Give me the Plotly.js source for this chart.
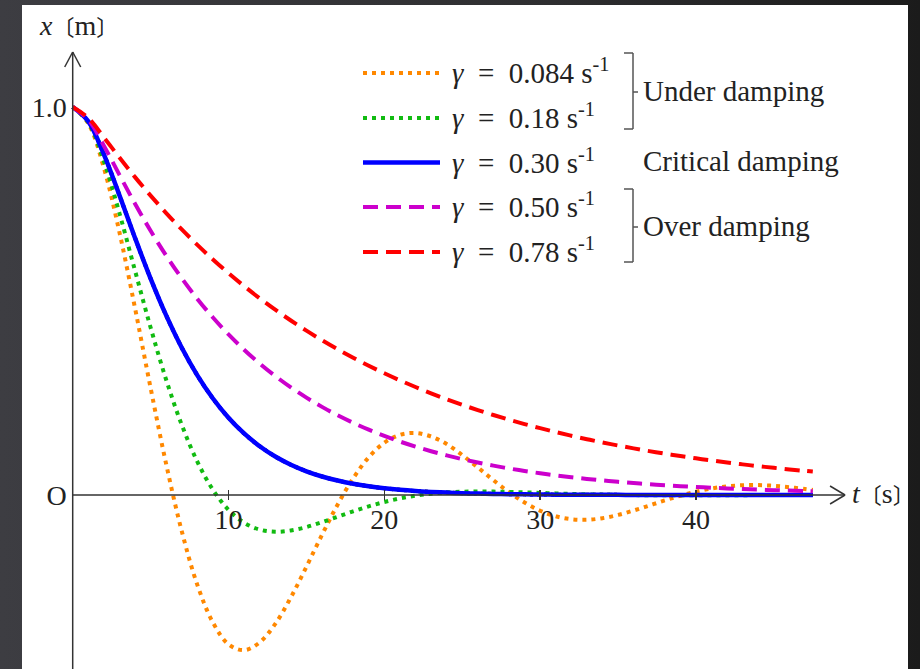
<!DOCTYPE html>
<html>
<head>
<meta charset="utf-8">
<script src="https://cdn.plot.ly/plotly-3.0.1.min.js"></script>
<style>
  html, body { margin: 0; padding: 0; width: 920px; height: 669px; overflow: hidden;
    background: linear-gradient(to right, #3d3d42 0%, #2e2e30 60%, #1b1b1b 100%); }
  #chart { width: 920px; height: 669px; }
</style>
</head>
<body>
<div id="chart"></div>
<script>
// time samples [s]
const tValues = [0,1,2,3,4,5,6,7,8,9,10,11,12,13,14,15,16,17,18,19,20,21,22,23,24,25,26,27,28,29,30,31,32,33,34,35,36,37,38,39,40,41,42,43,44,45,46,47,47.5];

// displacement x [m] for each damping constant
const xGamma0084 = [1,0.9577,0.8432,0.6772,0.4817,0.2757,0.0794,-0.0934,-0.2318,-0.3288,-0.3848,-0.3999,-0.3800,-0.3323,-0.2641,-0.1850,-0.1028,-0.0250,0.0429,0.0972,0.1347,0.1550,0.1599,0.1507,0.1312,0.1029,0.0710,0.0382,0.0073,-0.0193,-0.0405,-0.0549,-0.0624,-0.0639,-0.0597,-0.0514,-0.0400,-0.0272,-0.0141,-0.0019,0.0086,0.0168,0.0224,0.0251,0.0255,0.0236,0.0201,0.0155,0.0130];
const xGamma018 = [1,0.9602,0.8605,0.7263,0.5782,0.4315,0.2968,0.1806,0.0859,0.0134,-0.0382,-0.0714,-0.0892,-0.0948,-0.0914,-0.0826,-0.0700,-0.0560,-0.0421,-0.0292,-0.0180,-0.0089,-0.0018,0.0033,0.0066,0.0083,0.0090,0.0087,0.0079,0.0068,0.0054,0.0041,0.0029,0.0018,0.0009,0.0002,-0.0003,-0.0006,-0.0008,-0.0008,-0.0007,-0.0006,-0.0005,-0.0004,-0.0003,-0.0002,-0.0001,0,0];
const xGamma030 = [1,0.9631,0.8781,0.7725,0.6626,0.5578,0.4628,0.3796,0.3084,0.2487,0.1991,0.1586,0.1257,0.0992,0.0780,0.0611,0.0477,0.0372,0.0289,0.0224,0.0174,0.0134,0.0103,0.0080,0.0061,0.0047,0.0036,0.0028,0.0021,0.0016,0.0012,0.0009,0.0007,0.0006,0.0004,0.0003,0.0002,0.0002,0.0001,0.0001,0.0001,0,0,0,0,0,0,0,0];
const xGamma050 = [1,0.9671,0.9004,0.8250,0.7507,0.6810,0.6169,0.5584,0.5054,0.4574,0.4139,0.3745,0.3388,0.3066,0.2774,0.2510,0.2271,0.2055,0.1860,0.1683,0.1523,0.1378,0.1247,0.1128,0.1021,0.0923,0.0836,0.0756,0.0684,0.0619,0.0560,0.0507,0.0459,0.0415,0.0375,0.0340,0.0307,0.0278,0.0252,0.0228,0.0206,0.0186,0.0169,0.0153,0.0138,0.0125,0.0113,0.0102,0.0097];
const xGamma078 = [1,0.9717,0.9218,0.8696,0.8193,0.7717,0.7267,0.6844,0.6446,0.6070,0.5717,0.5384,0.5070,0.4775,0.4497,0.4235,0.3988,0.3756,0.3537,0.3331,0.3137,0.2955,0.2783,0.2621,0.2468,0.2324,0.2189,0.2061,0.1941,0.1828,0.1722,0.1622,0.1527,0.1438,0.1354,0.1276,0.1201,0.1131,0.1065,0.1003,0.0945,0.0890,0.0838,0.0789,0.0743,0.0700,0.0659,0.0621,0.0603];

const SP = '\u2002';
const gammaValues = ['0.084', '0.18', '0.30', '0.50', '0.78'];
const seriesLabels = gammaValues.map(v => '<i>γ</i>' + SP + '=' + SP + v + '\u00A0s<sup>-1</sup>');
const groupLabels = ['Under damping', 'Critical damping', 'Over damping'];
const xTickValues = [10, 20, 30, 40];
const xTickLabels = ['10', '20', '30', '40'];
const yTickValues = [0, 1];
const yTickLabels = ['O', '1.0'];

// ---- styling / layout helpers ----
const FONT = 'Liberation Serif, "Noto Sans CJK JP", serif';
const TXT = '#222222';
const PX = v => (v - 22) / 886;     // page pixel -> paper x
const PY = v => (669 - v) / 664;    // page pixel -> paper y

const styles = [
  {color: '#ff8800', dash: '4px,5px', width: 4},
  {color: '#11bb11', dash: '4px,5px', width: 4},
  {color: '#0000ff', dash: 'solid', width: 4.5},
  {color: '#cc00cc', dash: '15px,8px', width: 4},
  {color: '#ff0000', dash: '15px,8px', width: 4}
];
const ySeries = [xGamma0084, xGamma018, xGamma030, xGamma050, xGamma078];

const traces = [{
  x: tValues, y: xGamma030, type: 'scatter', mode: 'lines',
  line: {color: '#000000', width: 4, dash: '3px,4px', shape: 'spline'},
  hoverinfo: 'skip', showlegend: false
}];
ySeries.forEach((ys, i) => {
  traces.push({
    x: tValues, y: ys, type: 'scatter', mode: 'lines',
    line: {color: styles[i].color, width: styles[i].width, dash: styles[i].dash, shape: 'spline'},
    showlegend: false
  });
});

const shapes = [];
const annotations = [];
const axisColor = '#333333';
// axes
shapes.push({type: 'line', xref: 'x', yref: 'y', x0: 0, x1: 49.57, y0: 0, y1: 0, line: {color: axisColor, width: 1.5}});
shapes.push({type: 'line', xref: 'x', yref: 'y', x0: 0, x1: 0, y0: -0.46, y1: 1.1418, line: {color: axisColor, width: 1.5}});
// arrow heads
[[-15, 9], [-15, -9]].forEach(p => shapes.push({type: 'line', xref: 'x', yref: 'y',
  xsizemode: 'pixel', ysizemode: 'pixel', xanchor: 49.57, yanchor: 0,
  x0: p[0], y0: p[1], x1: 0, y1: 0, line: {color: axisColor, width: 1.5}}));
[[-8, -15], [8, -15]].forEach(p => shapes.push({type: 'line', xref: 'x', yref: 'y',
  xsizemode: 'pixel', ysizemode: 'pixel', xanchor: 0, yanchor: 1.1418,
  x0: p[0], y0: p[1], x1: 0, y1: 0, line: {color: axisColor, width: 1.5}}));

// legend rows
const rowY = [73, 118, 162.5, 207, 252];
rowY.forEach((ry, i) => {
  shapes.push({type: 'line', xref: 'paper', yref: 'paper', x0: PX(363), x1: PX(440), y0: PY(ry), y1: PY(ry),
    line: {color: styles[i].color, width: styles[i].width, dash: styles[i].dash}});
  annotations.push({xref: 'paper', yref: 'paper', x: PX(450), y: PY(ry - 2), xanchor: 'left', yanchor: 'middle',
    text: seriesLabels[i], showarrow: false, font: {family: FONT, size: 29, color: TXT}});
});
// brackets
const brCol = '#555555';
[[53, 129, 92], [189, 262, 227]].forEach(b => {
  const seg = (x0, y0, x1, y1) => shapes.push({type: 'line', xref: 'paper', yref: 'paper',
    x0: PX(x0), y0: PY(y0), x1: PX(x1), y1: PY(y1), line: {color: brCol, width: 1.5}});
  seg(633, b[0], 633, b[1]);
  seg(624, b[0], 633, b[0]);
  seg(624, b[1], 633, b[1]);
  seg(633, b[2], 638, b[2]);
});
[[groupLabels[0], 91], [groupLabels[1], 161], [groupLabels[2], 226]].forEach(g => {
  annotations.push({xref: 'paper', yref: 'paper', x: PX(641), y: PY(g[1]), xanchor: 'left', yanchor: 'middle',
    text: g[0], showarrow: false, font: {family: FONT, size: 29, color: TXT}});
});
// axis titles
const BR = s => '<span style="font-size:22px">' + s + '</span>';
annotations.push({xref: 'paper', yref: 'paper', x: PX(37), y: PY(25), xanchor: 'left', yanchor: 'middle',
  text: '<i>x</i>' + BR('〔') + 'm' + BR('〕'), showarrow: false, font: {family: FONT, size: 28, color: TXT}});
annotations.push({xref: 'paper', yref: 'paper', x: PX(850), y: PY(493), xanchor: 'left', yanchor: 'middle',
  text: '<i>t</i>' + BR('〔') + 's' + BR('〕'), showarrow: false, font: {family: FONT, size: 28, color: TXT}});

const layout = {
  width: 920, height: 669,
  margin: {l: 22, r: 12, t: 5, b: 0, pad: 0},
  paper_bgcolor: 'rgba(0,0,0,0)',
  plot_bgcolor: '#ffffff',
  showlegend: false,
  xaxis: {
    range: [-3.254, 53.61], anchor: 'free', position: (669 - 500) / 664,
    showline: false, zeroline: false, showgrid: false,
    ticks: 'inside', ticklen: 10, tickwidth: 1.5, tickcolor: axisColor,
    tickvals: xTickValues, ticktext: xTickLabels,
    tickfont: {family: FONT, size: 28, color: TXT}
  },
  yaxis: {
    range: [-0.4485, 1.2629], anchor: 'free', position: (72.7 - 22) / 886,
    showline: false, zeroline: false, showgrid: false, ticks: '',
    ticklabelstandoff: 6,
    tickvals: yTickValues, ticktext: yTickLabels,
    tickfont: {family: FONT, size: 28, color: TXT}
  },
  shapes: shapes,
  annotations: annotations
};

Plotly.newPlot('chart', traces, layout, {staticPlot: true, displayModeBar: false});
</script>
</body>
</html>
